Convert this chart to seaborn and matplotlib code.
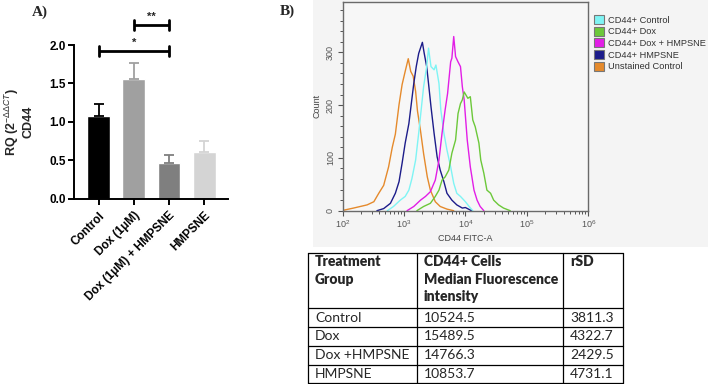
import numpy as np
import pandas as pd
import matplotlib.pyplot as plt
from matplotlib.patches import Patch, Rectangle
from matplotlib.ticker import MultipleLocator, FormatStrFormatter
import seaborn as sns

# ---- panel A: qPCR CD44 expression ----
groups = ['Control', 'Dox (1μM)', 'Dox (1μM) + HMPSNE', 'HMPSNE']
rq_mean = [1.08, 1.56, 0.46, 0.60]
rq_err = [0.15, 0.20, 0.11, 0.15]
bar_colors = ['#000000', '#a0a0a0', '#7f7f7f', '#d4d4d4']
# (left bar, right bar, label, bracket height)
sig_pairs = [(0, 2, '*', 1.92), (1, 2, '**', 2.26)]

# ---- panel B: flow cytometry histograms (log10 FITC, count) ----
unst_log = [2.0, 2.004, 2.02, 2.18, 2.40, 2.51, 2.59, 2.67, 2.75, 2.81, 2.86, 2.92, 2.97, 3.02,
            3.07, 3.11, 3.15, 3.19, 3.22, 3.27, 3.32, 3.38, 3.43, 3.51, 3.59, 3.70, 3.81]
unst_cnt = [60, 3, 1, 5, 11, 17, 33, 48, 83, 120, 145, 201, 239, 264,
            288, 264, 255, 226, 189, 151, 108, 64, 39, 17, 8, 3, 0]
hmp_log = [2.56, 2.67, 2.78, 2.86, 2.92, 2.97, 3.02, 3.08, 3.12, 3.16, 3.20, 3.24, 3.30, 3.33,
           3.37, 3.40, 3.44, 3.49, 3.54, 3.59, 3.65, 3.70, 3.78, 3.86, 3.95, 4.00, 4.10]
hmp_cnt = [0, 4, 14, 33, 55, 90, 128, 165, 203, 241, 273, 298, 319, 298,
           273, 241, 197, 147, 102, 77, 55, 33, 20, 11, 5, 6, 0]
ctrl_log = [2.73, 2.83, 2.94, 3.02, 3.08, 3.13, 3.19, 3.24, 3.28, 3.32, 3.37, 3.40, 3.44, 3.49,
            3.52, 3.57, 3.60, 3.65, 3.70, 3.76, 3.81, 3.86, 3.92, 4.00, 4.06, 4.12]
ctrl_cnt = [0, 8, 20, 27, 39, 61, 96, 147, 191, 235, 273, 308, 273, 267,
            276, 241, 191, 147, 115, 83, 52, 33, 27, 17, 8, 0]
doxh_log = [3.05, 3.16, 3.27, 3.35, 3.43, 3.51, 3.57, 3.62, 3.67, 3.71, 3.76, 3.78, 3.81, 3.84,
            3.88, 3.92, 3.95, 3.98, 4.03, 4.08, 4.14, 4.19, 4.24, 4.30]
doxh_cnt = [0, 8, 20, 27, 36, 58, 96, 147, 191, 222, 282, 289, 330, 292,
            282, 273, 235, 210, 134, 83, 39, 20, 8, 0]
dox_log = [3.21, 3.32, 3.43, 3.51, 3.57, 3.62, 3.67, 3.73, 3.78, 3.84, 3.88, 3.92, 3.95, 3.98,
           4.04, 4.08, 4.12, 4.16, 4.22, 4.25, 4.30, 4.35, 4.41, 4.46, 4.54, 4.62, 4.73]
dox_cnt = [0, 8, 14, 27, 39, 58, 64, 77, 109, 134, 184, 203, 210, 225,
           213, 216, 172, 159, 128, 96, 71, 39, 33, 20, 11, 5, 0]

flow_labels = ['CD44+ Control', 'CD44+ Dox', 'CD44+ Dox + HMPSNE', 'CD44+ HMPSNE', 'Unstained Control']
flow_colors = ['#7ff4f4', '#6cc83a', '#e21ee6', '#1c1c8a', '#e58a2c']
flow_series = [(ctrl_log, ctrl_cnt), (dox_log, dox_cnt), (doxh_log, doxh_cnt),
               (hmp_log, hmp_cnt), (unst_log, unst_cnt)]

# ---- table ----
tbl_header = ['Treatment\nGroup', 'CD44+ Cells\nMedian Fluorescence\nintensity', 'rSD']
tbl_groups = ['Control', 'Dox', 'Dox +HMPSNE', 'HMPSNE']
tbl_mfi = [10524.5, 15489.5, 14766.3, 10853.7]
tbl_rsd = [3811.3, 4322.7, 2429.5, 4731.1]

sns.set_theme(style='ticks')
plt.rcParams['font.family'] = ['Liberation Sans', 'DejaVu Sans']
plt.rcParams['mathtext.fontset'] = 'custom'
plt.rcParams['mathtext.rm'] = 'Liberation Sans'
plt.rcParams['mathtext.it'] = 'Liberation Sans:italic'
plt.rcParams['mathtext.bf'] = 'Liberation Sans:bold'

W, H = 708, 384
fig = plt.figure(figsize=(W / 100, H / 100), dpi=100)
fig.patch.set_facecolor('white')


def px_axes(l, t, r, b):
    return fig.add_axes([l / W, 1 - b / H, (r - l) / W, (b - t) / H])


# ================= Panel A =================
axA = px_axes(73.5, 45, 228, 198.5)
dfA = pd.DataFrame({'group': groups, 'rq': rq_mean})
sns.barplot(data=dfA, x='group', y='rq', hue='group', palette=dict(zip(groups, bar_colors)),
            width=0.65, saturation=1, legend=False, ax=axA)
for i, (m, e, c) in enumerate(zip(rq_mean, rq_err, bar_colors)):
    axA.errorbar(i, m, yerr=[[0], [e]], fmt='none', ecolor=c, elinewidth=1.3,
                 capsize=3.5, capthick=1.3, zorder=3)
axA.set_xlim(-0.72, 3.68)
axA.set_ylim(0, 2.0)
axA.set_yticks([0, 0.5, 1.0, 1.5, 2.0])
axA.yaxis.set_major_formatter(FormatStrFormatter('%.1f'))
sns.despine(ax=axA)
for sp in ['left', 'bottom']:
    axA.spines[sp].set_linewidth(1.4)
    axA.spines[sp].set_color('black')
axA.tick_params(axis='both', length=4, width=1.4, labelsize=8.5, pad=1.5, colors='black')
axA.tick_params(axis='x', pad=4)
axA.set_xlabel('')
axA.set_xticks(range(len(groups)))
axA.set_xticklabels(groups, rotation=45, ha='right', rotation_mode='anchor', fontweight='bold')
for t in axA.get_yticklabels():
    t.set_fontweight('bold')
axA.set_ylabel('RQ (2$^{-\\Delta\\Delta CT}$)\nCD44', fontsize=9, fontweight='bold', linespacing=1.1)
axA.yaxis.set_label_coords(-0.255, 0.5)

for a, b, lab, y in sig_pairs:
    axA.plot([a, b], [y, y], color='black', lw=2, clip_on=False, solid_capstyle='butt')
    for xe in (a, b):
        axA.plot([xe, xe], [y - 0.065, y + 0.065], color='black', lw=2, clip_on=False)
    axA.text((a + b) / 2, y + 0.04, lab, ha='center', va='bottom', fontsize=8,
             fontweight='bold', clip_on=False)

fig.text(40 / W, 1 - 12 / H, 'A)', family='Liberation Serif', fontweight='bold',
         fontsize=11, ha='center', va='center')
fig.text(287 / W, 1 - 11 / H, 'B)', family='Liberation Serif', fontweight='bold',
         fontsize=11, ha='center', va='center')

# ================= Panel B =================
fig.patches.append(Rectangle((313 / W, 1 - 246.5 / H), (W - 313) / W, 246.5 / H,
                             transform=fig.transFigure, facecolor='#f4f4f4',
                             edgecolor='none', zorder=-5))
axB = px_axes(342.5, 1.7, 588.3, 210.7)
axB.set_facecolor('#f7f7f7')
rows = []
for lab, (lg, cn) in zip(flow_labels, flow_series):
    for xv, yv in zip(lg, cn):
        rows.append({'group': lab, 'fitc': 10 ** xv, 'count': yv})
dfB = pd.DataFrame(rows)
draw_order = ['Unstained Control', 'CD44+ HMPSNE', 'CD44+ Control', 'CD44+ Dox + HMPSNE', 'CD44+ Dox']
sns.lineplot(data=dfB, x='fitc', y='count', hue='group', hue_order=draw_order,
             palette=dict(zip(flow_labels, flow_colors)), estimator=None, sort=False,
             lw=1.0, legend=False, ax=axB)
axB.set_xscale('log')
axB.set_xlim(1e2, 1e6)
axB.set_ylim(0, 396)
axB.yaxis.set_major_locator(MultipleLocator(100))
axB.yaxis.set_minor_locator(MultipleLocator(20))
for sp in axB.spines.values():
    sp.set_color('#6a6a6a')
    sp.set_linewidth(1.0)
axB.tick_params(axis='both', which='major', length=3.5, width=0.8, colors='#555555',
                labelsize=6.5, pad=2)
axB.tick_params(axis='both', which='minor', length=2.5, width=0.7, colors='#555555')
for t in axB.get_yticklabels():
    t.set_rotation(90)
    t.set_va('center')
axB.set_xlabel('CD44 FITC-A', fontsize=6.5, color='#444444', labelpad=3)
axB.set_ylabel('Count', fontsize=6.5, color='#444444', labelpad=3)

handles = [Patch(facecolor=c, edgecolor='#777777', lw=0.8, label=l)
           for l, c in zip(flow_labels, flow_colors)]
leg = fig.legend(handles=handles, loc='upper left', bbox_to_anchor=(594 / W, 1 - 15 / H),
                 frameon=False, fontsize=6.7, handlelength=1.1, handleheight=1.1,
                 handletextpad=0.4, labelspacing=0.22, borderpad=0, borderaxespad=0)
for t in leg.get_texts():
    t.set_color('#333333')

# ================= Table =================
axT = fig.add_axes([0, 0, 1, 1])
axT.set_xlim(0, W)
axT.set_ylim(H, 0)
axT.axis('off')
axT.patch.set_alpha(0)
col_edges = [308, 417, 563, 623]
row_edges = [253, 308, 327, 346, 364.5, 383]
for xe in col_edges:
    axT.plot([xe, xe], [row_edges[0], row_edges[-1]], color='black', lw=0.9)
for ye in row_edges:
    axT.plot([col_edges[0], col_edges[-1]], [ye, ye], color='black', lw=0.9)
for j, txt in enumerate(tbl_header):
    axT.text(col_edges[j] + 7, 255, txt, ha='left', va='top', fontsize=10,
             fontweight='heavy', family='Lato', linespacing=1.42)
for i, (g, m, r) in enumerate(zip(tbl_groups, tbl_mfi, tbl_rsd)):
    yc = (row_edges[i + 1] + row_edges[i + 2]) / 2
    for j, txt in enumerate([g, f'{m:.1f}', f'{r:.1f}']):
        axT.text(col_edges[j] + 7, yc, txt, ha='left', va='center', fontsize=10,
                 family='Lato')

fig.savefig('out.png', dpi=100)
